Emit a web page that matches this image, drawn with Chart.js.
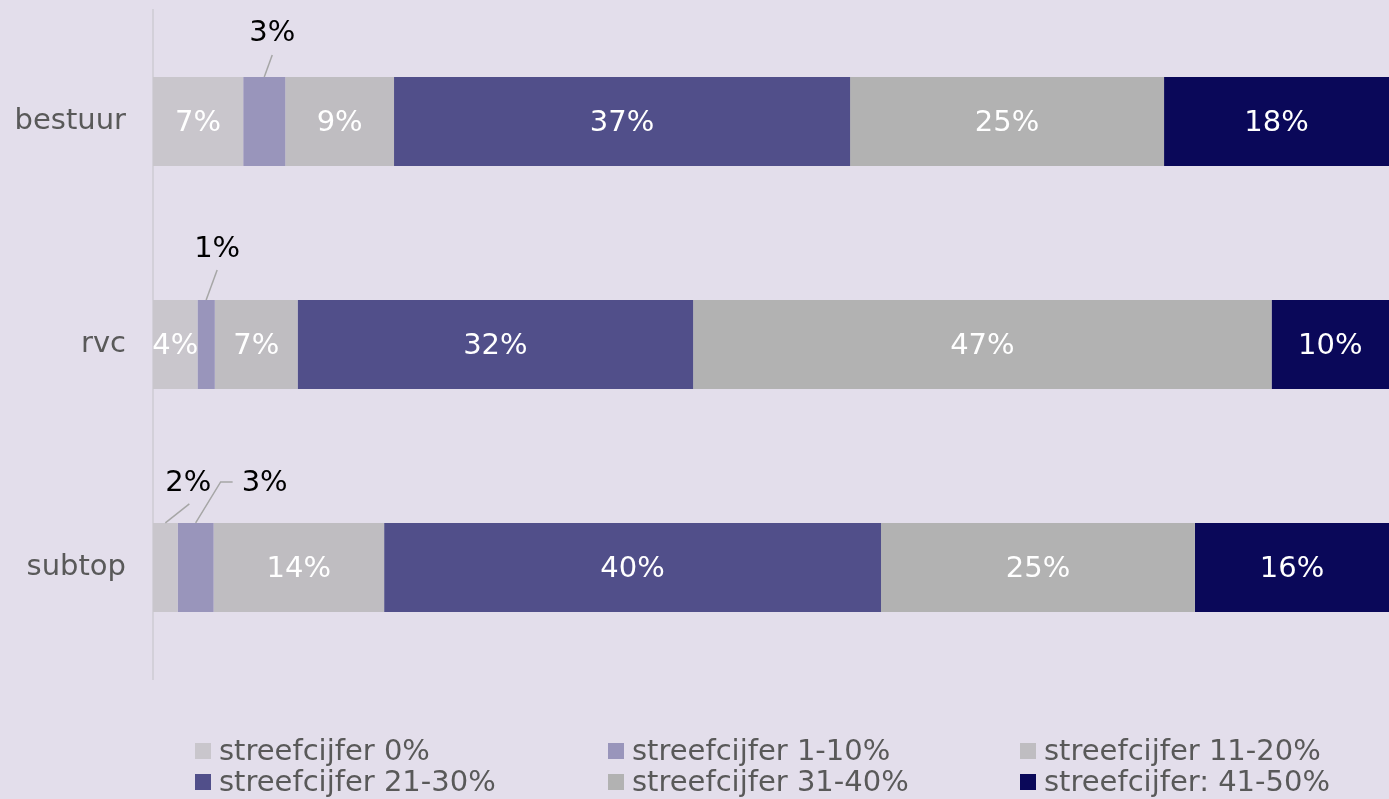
<!DOCTYPE html>
<html>
<head>
<meta charset="utf-8">
<script src="https://cdn.jsdelivr.net/npm/chart.js@4/dist/chart.umd.min.js"></script>
<style>
  body { margin: 0; background: #e3deeb; overflow: hidden; font-family: "DejaVu Sans", Verdana, sans-serif; }
  #wrap { position: relative; width: 1389px; height: 799px; }
  #legend { position: absolute; left: 0; top: 735px; width: 1389px; }
  .item { position: absolute; display: flex; align-items: center; font-size: 29px; line-height: 31px; color: #595959; white-space: nowrap; }
  .box { width: 16px; height: 16px; margin-right: 8px; }
</style>
</head>
<body>
<div id="wrap">
  <canvas id="grafico" width="1389" height="799"></canvas>
  <div id="legend"></div>
</div>
<script>
// categorieën en reeksen (percentages per rij, samen 100)
const categorias = ['bestuur', 'rvc', 'subtop'];
const nombresSeries = ['streefcijfer 0%', 'streefcijfer 1-10%', 'streefcijfer 11-20%',
                       'streefcijfer 21-30%', 'streefcijfer 31-40%', 'streefcijfer: 41-50%'];
const sf0     = [7.3, 3.6, 2.0];
const sf1_10  = [3.4, 1.4, 2.9];
const sf11_20 = [8.8, 6.7, 13.8];
const sf21_30 = [36.9, 32.0, 40.2];
const sf31_40 = [25.4, 46.8, 25.4];
const sf41_50 = [18.2, 9.5, 15.7];

const colores = ['#c9c6cc', '#9995bb', '#bfbdc1', '#514f8a', '#b2b2b2', '#0a0859'];
const valores = [sf0, sf1_10, sf11_20, sf21_30, sf31_40, sf41_50];

// labels buiten de balk, met verbindingslijn (offsets t.o.v. midden-boven van het segment)
const fuera = [
  { cat: 0, ds: 1, linea: [[0, 0], [8, -22]], texto: [8, -43] },
  { cat: 1, ds: 1, linea: [[0, 0], [11, -30]], texto: [11, -50] },
  { cat: 2, ds: 0, linea: [[0, 0], [24, -19]], texto: [23, -39] },
  { cat: 2, ds: 1, linea: [[0, 0], [25, -41], [37, -41]], texto: [69, -39] }
];

const FUENTE = '"DejaVu Sans", Verdana, sans-serif';

const etiquetas = {
  id: 'etiquetas',
  afterDatasetsDraw(chart) {
    const ctx = chart.ctx;
    ctx.save();
    ctx.font = '29px ' + FUENTE;
    ctx.textAlign = 'center';
    ctx.textBaseline = 'middle';
    chart.data.datasets.forEach((ds, i) => {
      const meta = chart.getDatasetMeta(i);
      meta.data.forEach((bar, j) => {
        const txt = Math.round(ds.data[j]) + '%';
        const cx = (bar.x + bar.base) / 2;
        const top = bar.y - bar.height / 2;
        const f = fuera.find(o => o.cat === j && o.ds === i);
        if (f) {
          ctx.strokeStyle = '#a6a6a6';
          ctx.lineWidth = 1.5;
          ctx.beginPath();
          f.linea.forEach((p, k) => {
            if (k === 0) ctx.moveTo(cx + p[0], top + p[1]);
            else ctx.lineTo(cx + p[0], top + p[1]);
          });
          ctx.stroke();
          ctx.fillStyle = '#000000';
          ctx.fillText(txt, cx + f.texto[0], top + f.texto[1]);
        } else {
          ctx.fillStyle = '#ffffff';
          ctx.fillText(txt, cx, bar.y + 2);
        }
      });
    });
    ctx.restore();
  }
};

const ctx = document.getElementById('grafico').getContext('2d');
const grafico = new Chart(ctx, {
  type: 'bar',
  data: {
    labels: categorias,
    datasets: valores.map((v, i) => ({
      label: nombresSeries[i],
      data: v,
      backgroundColor: colores[i],
      borderWidth: 0,
      categoryPercentage: 1,
      barPercentage: 0.4
    }))
  },
  options: {
    indexAxis: 'y',
    responsive: false,
    animation: false,
    layout: { padding: { top: 10, bottom: 120, right: 0, left: 0 } },
    plugins: { legend: { display: false }, tooltip: { enabled: false } },
    scales: {
      x: { stacked: true, display: false, min: 0, max: 100 },
      y: {
        stacked: true,
        afterFit: s => { s.width = 153; },
        grid: { display: true, drawOnChartArea: false, drawTicks: true, tickLength: 27, tickColor: 'rgba(0,0,0,0)' },
        border: { display: true, color: '#d3d0d9', width: 2 },
        ticks: { color: '#595959', padding: 0, font: { family: FUENTE, size: 29, lineHeight: 0.68 } }
      }
    }
  },
  plugins: [etiquetas]
});

// legenda in drie kolommen
const colsX = [195, 608, 1020];
const leyenda = document.getElementById('legend');
nombresSeries.forEach((n, i) => {
  const d = document.createElement('div');
  d.className = 'item';
  d.style.left = colsX[i % 3] + 'px';
  d.style.top = (Math.floor(i / 3) * 31) + 'px';
  d.innerHTML = '<span class="box" style="background:' + colores[i] + '"></span>' + n;
  leyenda.appendChild(d);
});
</script>
</body>
</html>
